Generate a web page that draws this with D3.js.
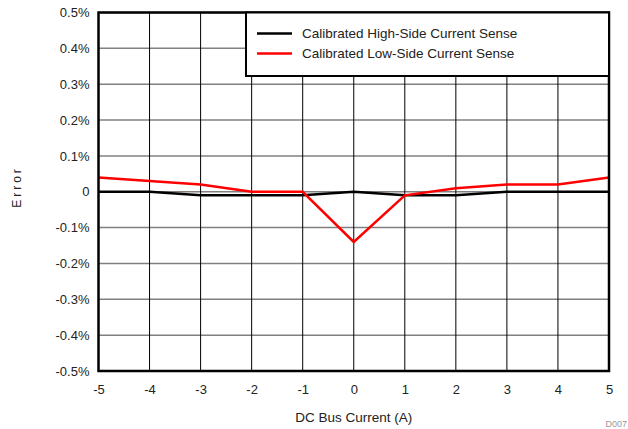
<!DOCTYPE html>
<html><head><meta charset="utf-8">
<script src="https://cdn.jsdelivr.net/npm/d3@7"></script>
<style>body{margin:0;background:#fff}svg{display:block;font-family:"Liberation Sans",Arial,sans-serif}</style>
</head><body><svg id="c" width="628" height="429"></svg>
<script>
const currents = [-5,-4,-3,-2,-1,0,1,2,3,4,5];
const highSide = [0,0,-0.01,-0.01,-0.01,0,-0.01,-0.01,0,0,0];
const lowSide = [0.04,0.03,0.02,0,0,-0.14,-0.01,0.01,0.02,0.02,0.04];
const yTicks = [-0.5,-0.4,-0.3,-0.2,-0.1,0,0.1,0.2,0.3,0.4,0.5];
const seriesNames = ["Calibrated High-Side Current Sense","Calibrated Low-Side Current Sense"];
const seriesColors = ["#000000","#ff0000"];

const svg = d3.select("#c");
const L=98.5, R=609, T=12.5, B=371;
const x = d3.scaleLinear().domain([-5,5]).range([L,R]);
const y = d3.scaleLinear().domain([-0.5,0.5]).range([B,T]);

// gridlines
svg.append("g").selectAll("line").data(yTicks).join("line")
  .attr("x1",L).attr("x2",R).attr("y1",d=>y(d)).attr("y2",d=>y(d))
  .attr("stroke","#808080").attr("stroke-width",1.5);
svg.append("g").selectAll("line").data(currents).join("line")
  .attr("x1",d=>x(d)).attr("x2",d=>x(d)).attr("y1",T).attr("y2",B)
  .attr("stroke","#000").attr("stroke-width",1);

// axes
const fmtY = d => d===0 ? "0" : (d<0?"-":"")+Math.abs(d).toFixed(1)+"%";
const fmtX = d => (d<0?"-":"")+Math.abs(d);
const yAxis = svg.append("g").attr("transform",`translate(${L},0)`)
  .call(d3.axisLeft(y).tickValues(yTicks).tickFormat(fmtY).tickSize(0).tickPadding(9));
const xAxis = svg.append("g").attr("transform",`translate(0,${B})`)
  .call(d3.axisBottom(x).tickValues(currents).tickFormat(fmtX).tickSize(0).tickPadding(14));
[yAxis,xAxis].forEach(a=>{a.select(".domain").remove();a.selectAll("text").attr("font-size",13).attr("fill","#222").attr("font-family","Liberation Sans, Arial, sans-serif");});

// lines
const line = d3.line().x((d,i)=>x(currents[i])).y(d=>y(d));
[highSide,lowSide].forEach((s,i)=>{
  svg.append("path").datum(s).attr("d",line).attr("fill","none")
    .attr("stroke",seriesColors[i]).attr("stroke-width",2.5).attr("stroke-linejoin","miter");
});

// frame
svg.append("rect").attr("x",L).attr("y",T).attr("width",R-L).attr("height",B-T)
  .attr("fill","none").attr("stroke","#000").attr("stroke-width",2.5);

// legend
const lg = svg.append("g");
lg.append("rect").attr("x",246).attr("y",T).attr("width",R-246).attr("height",76-T)
  .attr("fill","#fff").attr("stroke","#000").attr("stroke-width",2);
seriesNames.forEach((n,i)=>{
  const yy = 33.5 + i*20;
  lg.append("line").attr("x1",257).attr("x2",292).attr("y1",yy).attr("y2",yy)
    .attr("stroke",seriesColors[i]).attr("stroke-width",2.5);
  lg.append("text").attr("x",302).attr("y",yy+4.5).attr("font-size",13.5).attr("fill","#222").text(n);
});

// titles
svg.append("text").attr("x",(L+R)/2).attr("y",422).attr("text-anchor","middle")
  .attr("font-size",13.5).attr("fill","#222").text("DC Bus Current (A)");
svg.append("text").attr("transform","translate(21,187) rotate(-90)").attr("text-anchor","middle")
  .attr("font-size",12).attr("letter-spacing",3).attr("fill","#222").text("Error");
svg.append("text").attr("x",627).attr("y",427).attr("text-anchor","end")
  .attr("font-size",9).attr("fill","#999").text("D007");
</script></body></html>
